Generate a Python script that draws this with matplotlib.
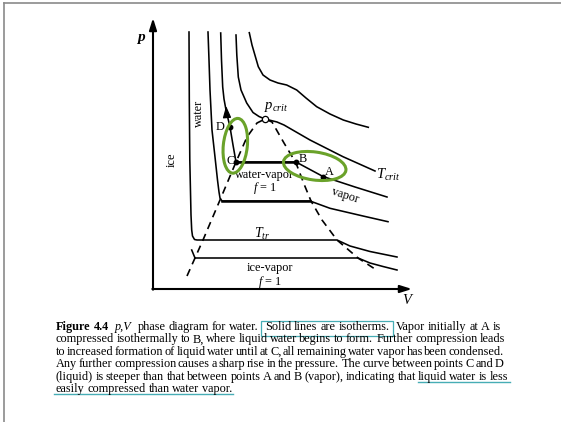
import re
import matplotlib
matplotlib.use("Agg")
import matplotlib.pyplot as plt
from matplotlib.patches import Ellipse, Rectangle
from matplotlib.lines import Line2D
from matplotlib.transforms import IdentityTransform

plt.rcParams['font.family'] = ['Liberation Serif', 'DejaVu Serif']
plt.rcParams['mathtext.fontset'] = 'custom'
plt.rcParams['mathtext.rm'] = 'Liberation Serif'
plt.rcParams['mathtext.it'] = 'Liberation Serif:italic'

# ---------------- data (V, p in schematic units) ----------------
# isotherm below the triple point
T0_V = [38.7, 42, 205, 217, 230, 244]
T0_p = [39, 31, 31, 26, 22.5, 19]
# triple-point isotherm
Ttr_V = [36, 36.3, 36.8, 38, 38.7, 39.5, 41.5, 44, 184, 197, 217, 244]
Ttr_p = [257, 189, 129, 74, 59, 53, 49.5, 49, 49, 43, 37.5, 32]
# isotherm with water-vapor tie line
T2_V = [55, 56, 57, 59, 62, 64.5, 66, 67, 69, 157, 177, 210, 235]
T2_p = [257, 229, 199, 159, 132, 109, 97, 91, 88, 88, 80.7, 73, 67.3]
# isotherm through D, C, B, A
T3_V = [67.7, 68.5, 69.7, 71, 73, 77, 80, 83, 143, 170, 202, 234]
T3_p = [256, 229, 202, 190, 179, 162, 144, 127, 127, 112.5, 102, 92]
# critical isotherm
T4_V = [83, 83.8, 85.3, 88, 93.7, 100, 106, 112, 118, 124, 131, 157, 190, 222]
T4_p = [254, 234, 212, 199, 186, 176.5, 172.5, 170, 168.5, 167, 164, 149, 132.3, 118]
# supercritical isotherm
T5_V = [96.3, 99, 105.3, 110, 117, 125, 133.7, 143.7, 153, 163.7, 177, 190.3, 203, 215.3]
T5_p = [256.3, 244, 222.3, 214, 209, 206, 204, 199, 191, 182.3, 175, 169, 165, 161.7]
# coexistence dome (dashed)
dome_V = [34, 42, 50, 67, 83, 94, 104, 112, 119, 131, 143, 151, 158, 169, 184, 205, 225]
dome_p = [13, 31, 49, 89, 127, 152, 166, 170, 167, 146, 126, 105, 88, 69, 49, 31, 18]
# labelled states
pt_names = ['D', 'C', 'B', 'A']
pt_V = [77, 83, 143, 170]
pt_p = [162, 127, 127, 112.5]
crit_V, crit_p = 112, 170

caption = [
    "Figure 4.4  p,V  phase diagram for water.  Solid lines are isotherms.  Vapor initially at A is",
    "compressed isothermally to B, where liquid water begins to form.  Further compression leads",
    "to increased formation of liquid water until at C, all remaining water vapor has been condensed.",
    "Any further compression causes a sharp rise in the pressure.  The curve between points C and D",
    "(liquid) is steeper than that between points A and B (vapor), indicating that liquid water is less",
    "easily compressed than water vapor.",
]

# ---------------- figure ----------------
W, H = 561, 422
fig = plt.figure(figsize=(W / 100, H / 100), dpi=100)
ax = fig.add_axes([0, 0, 1, 1])
ax.set_xlim(-153, W - 153)
ax.set_ylim(289 - H, 289)
ax.axis('off')

# page frame
fig.add_artist(Line2D([4, 4], [0, H - 3], transform=IdentityTransform(), color='#8a8a8a', lw=1.2))
fig.add_artist(Line2D([4, W], [H - 3, H - 3], transform=IdentityTransform(), color='#8a8a8a', lw=1.2))

# axes with arrows
arr = dict(arrowstyle='-|>,head_length=0.7,head_width=0.22', lw=1.5, color='k', shrinkA=0, shrinkB=0)
ax.annotate('', xy=(0, 271), xytext=(0, -0.7), arrowprops=arr)
ax.annotate('', xy=(259, 0), xytext=(-0.7, 0), arrowprops=arr)
ax.text(-12, 252, 'p', style='italic', weight='bold', fontsize=11, ha='center', va='center')
ax.text(254, -11, 'V', style='italic', fontsize=10.5, ha='center', va='center')

lw = 1.15
ax.plot(T0_V[:2], T0_p[:2], color='k', lw=lw)
ax.plot(T0_V[1:], T0_p[1:], color='k', lw=lw)
ax.plot(Ttr_V, Ttr_p, color='k', lw=lw)
ax.plot(T2_V, T2_p, color='k', lw=lw)
ax.plot(T2_V[8:10], T2_p[8:10], color='k', lw=1.8)
ax.plot(T3_V, T3_p, color='k', lw=lw)
ax.plot(T3_V[7:9], T3_p[7:9], color='k', lw=1.8)
ax.plot(T4_V, T4_p, color='k', lw=lw)
ax.plot(T5_V, T5_p, color='k', lw=lw)
ax.plot(dome_V, dome_p, color='k', lw=1.2, ls=(0, (4.5, 3.2)))

# compression arrow on the liquid branch
ax.annotate('', xy=(T3_V[4] + 0.1, T3_p[4] + 4), xytext=(T3_V[4] + 0.8, T3_p[4] - 5),
            arrowprops=dict(arrowstyle='-|>,head_length=0.7,head_width=0.25', lw=0.9, color='k',
                            shrinkA=0, shrinkB=0))

ax.plot(pt_V, pt_p, 'o', color='k', ms=3.2)
ax.plot([crit_V], [crit_p], 'o', mfc='white', mec='k', mew=0.9, ms=4.5, zorder=5)

fs = 8.8
ax.text(67, 162, 'D', fontsize=fs, ha='center', va='center')
ax.text(77.5, 128, 'C', fontsize=fs, ha='center', va='center')
ax.text(149.5, 130.5, 'B', fontsize=fs, ha='center', va='center')
ax.text(176.5, 117, 'A', fontsize=fs, ha='center', va='center')
ax.text(123, 182, r'$p_{crit}$', fontsize=10.5, ha='center', va='center')
ax.text(223, 114, r'$T_{crit}$', fontsize=10.5, ha='left', va='center')
ax.text(111, 113.5, 'water-vapor', fontsize=fs, ha='center', va='center')
ax.text(112, 100.5, r'$f$ = 1', fontsize=fs, ha='center', va='center')
ax.text(192, 93, 'vapor', fontsize=fs, ha='center', va='center', rotation=-18)
ax.text(109, 55, r'$T_{tr}$', fontsize=10, ha='center', va='center')
ax.text(117, 21, 'ice-vapor', fontsize=fs, ha='center', va='center')
ax.text(117, 7, r'$f$ = 1', fontsize=fs, ha='center', va='center')
ax.text(19, 129, 'ice', fontsize=fs, ha='center', va='center', rotation=90)
ax.text(46, 176, 'water', fontsize=fs, ha='center', va='center', rotation=90)

green = '#6aa22a'
ax.add_patch(Ellipse((82.3, 143.2), 55, 24, angle=84, fill=False, ec=green, lw=2.2, zorder=6))
ax.add_patch(Ellipse((161.7, 123), 63, 28, angle=-8, fill=False, ec=green, lw=2.2, zorder=6))

# ---------------- caption ----------------
renderer = fig.canvas.get_renderer()
cap_left = 56
cap_right = [501, 505, 504, 504, 508, None]
baselines = [330, 342.4, 354.8, 367.2, 379.6, 392]
teal = '#47adb5'


def make_words(idx, s, size):
    parts = re.split(r'( +)', s)
    words = parts[0::2]
    gaps = [len(g) for g in parts[1::2]]
    arts = []
    for w in words:
        kw = dict(fontsize=size)
        if idx == 0 and w in ('Figure', '4.4'):
            kw['weight'] = 'bold'
        if idx == 0 and w == 'p,V':
            kw['style'] = 'italic'
        arts.append(fig.text(0, 0, w, transform=IdentityTransform(), ha='left', va='baseline', **kw))
    widths = [t.get_window_extent(renderer).width for t in arts]
    return arts, widths, gaps


positions = []
for i, s in enumerate(caption):
    size = 8.8
    while True:
        arts, widths, gaps = make_words(i, s, size)
        if cap_right[i] is None:
            unit = size * 100 / 72 * 0.22
            break
        unit = (cap_right[i] - cap_left - sum(widths)) / max(sum(gaps), 1)
        if unit >= 0.9 or size < 6:
            break
        for t in arts:
            t.remove()
        size -= 0.1
    x = cap_left
    pos = []
    for k, t in enumerate(arts):
        t.set_position((x, H - baselines[i]))
        pos.append((x, x + widths[k]))
        if k < len(gaps):
            x += widths[k] + unit * gaps[k]
    positions.append(pos)

p0 = positions[0]
fig.add_artist(Rectangle((p0[7][0] - 3.5, H - 335.5), p0[10][1] - p0[7][0] + 7, 15,
                         transform=IdentityTransform(), fill=False, ec=teal, lw=0.9))
p4 = positions[4]
fig.add_artist(Line2D([p4[-4][0], p4[-1][1] + 2], [H - 381.5, H - 381.5],
                      transform=IdentityTransform(), color=teal, lw=1.0))
p5 = positions[5]
fig.add_artist(Line2D([p5[0][0] - 2, p5[-1][1] + 1], [H - 394, H - 394],
                      transform=IdentityTransform(), color=teal, lw=1.0))

fig.savefig('out.png', dpi=100, facecolor='white')
